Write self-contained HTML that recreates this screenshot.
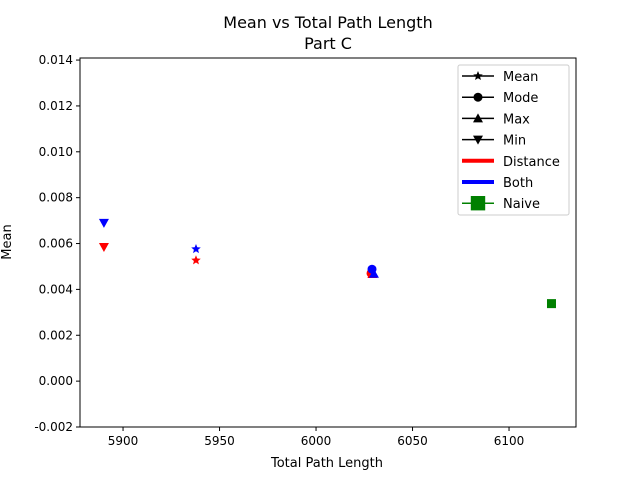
<!DOCTYPE html>
<html><head><meta charset="utf-8"><style>
body{margin:0;background:#fff;font-family:"Liberation Sans","DejaVu Sans",sans-serif}
svg text{font-family:"DejaVu Sans","Liberation Sans",sans-serif}
</style></head><body>
<svg id="c" width="640" height="480" xmlns="http://www.w3.org/2000/svg">
<rect width="640" height="480" fill="#fff"/>
<text x="328" y="28" text-anchor="middle" font-size="16">Mean vs Total Path Length</text>
<text x="328" y="49" text-anchor="middle" font-size="16">Part C</text>
<g id="ax"></g>
<g id="marks"></g>
<text x="327" y="467" text-anchor="middle" font-size="13">Total Path Length</text>
<text x="11" y="242" text-anchor="middle" font-size="13" transform="rotate(-90 11 242)">Mean</text>
<g id="legend"></g>
</svg>
<script>
const xTicks=[5900,5950,6000,6050,6100];
const yTicks=[-0.002,0,0.002,0.004,0.006,0.008,0.010,0.012,0.014];
const seriesNames=["Distance-Mean","Distance-Mode","Distance-Max","Distance-Min","Both-Mean","Both-Mode","Both-Max","Both-Min","Naive"];
const xValues=[5937.8,6028.5,6029.2,5890.1,5937.8,6029,6030,5890.1,6122];
const yValues=[0.00527,0.00470,0.00467,0.00585,0.00576,0.00488,0.00468,0.0069,0.00338];
const markers=["star","circle","up","down","star","circle","up","down","square"];
const colors=["red","red","red","red","blue","blue","blue","blue","green"];
const L=80,R=576,T=58,B=427,x0=5877.7,x1=6134.7,y0=-0.002,y1=0.01409;
const sx=v=>L+(v-x0)/(x1-x0)*(R-L);
const sy=v=>B-(v-y0)/(y1-y0)*(B-T);
const NS="http://www.w3.org/2000/svg";
function mk(t,a,p){const e=document.createElementNS(NS,t);for(const k in a)e.setAttribute(k,a[k]);p.appendChild(e);return e;}
const ax=document.getElementById('ax');
xTicks.forEach(v=>{const x=sx(v);
const l=mk('line',{x1:x,x2:x,y1:B,y2:B+4,stroke:'#000'},ax);


const t=mk('text',{x:x,y:B+18,'text-anchor':'middle','font-size':'12'},ax);t.textContent=v;

});
yTicks.forEach(v=>{const y=sy(v);
const l=mk('line',{x1:L-4,x2:L,y1:y,y2:y,stroke:'#000'},ax);


const t=mk('text',{x:L-7,y:y+4,'text-anchor':'end','font-size':'12'},ax);t.textContent=v.toFixed(3);

});
const fr=mk('rect',{x:L,y:T,width:R-L,height:B-T,fill:'none',stroke:'#000','stroke-width':1},ax);


function marker(kind,x,y,c,p,s){s=s||1;let e;
if(kind==='circle')e=mk('circle',{cx:x,cy:y,r:4.5*s,fill:c},p);
else if(kind==='square')e=mk('rect',{x:x-4.5*s,y:y-4.5*s,width:9*s,height:9*s,fill:c},p);
else if(kind==='up')e=mk('polygon',{points:`${x},${y-5*s} ${x-5*s},${y+4*s} ${x+5*s},${y+4*s}`,fill:c},p);
else if(kind==='down')e=mk('polygon',{points:`${x},${y+5*s} ${x-5*s},${y-4*s} ${x+5*s},${y-4*s}`,fill:c},p);
else{let pts=[];for(let i=0;i<10;i++){const r=i%2?2.2*s:5*s,a=-Math.PI/2+i*Math.PI/5;pts.push((x+r*Math.cos(a))+','+(y+r*Math.sin(a)));}
e=mk('polygon',{points:pts.join(' '),fill:c},p);}
return e;}
const mg=document.getElementById('marks');
xValues.forEach((v,i)=>{const e=marker(markers[i],sx(v),sy(yValues[i]),colors[i],mg);

});
const lg=document.getElementById('legend');
const box=mk('rect',{x:458,y:65,width:111,height:150,fill:'#fff',stroke:'#ccc',rx:2},lg);


const entries=[["Mean","star","#000"],["Mode","circle","#000"],["Max","up","#000"],["Min","down","#000"],["Distance",null,"red"],["Both",null,"blue"],["Naive","square","green"]];
entries.forEach((en,i)=>{const y=76+i*21.2;const g=mk('g',{},lg);


if(en[1]===null)mk('line',{x1:462,x2:494,y1:y,y2:y,stroke:en[2],'stroke-width':4},g);
else{mk('line',{x1:462,x2:494,y1:y,y2:y,stroke:en[2],'stroke-width':1.5},g);marker(en[1],478,y,en[2],g,en[1]==='square'?1.6:1);}
const t=mk('text',{x:503,y:y+5,'font-size':'13'},g);t.textContent=en[0];});
</script>
</body></html>
